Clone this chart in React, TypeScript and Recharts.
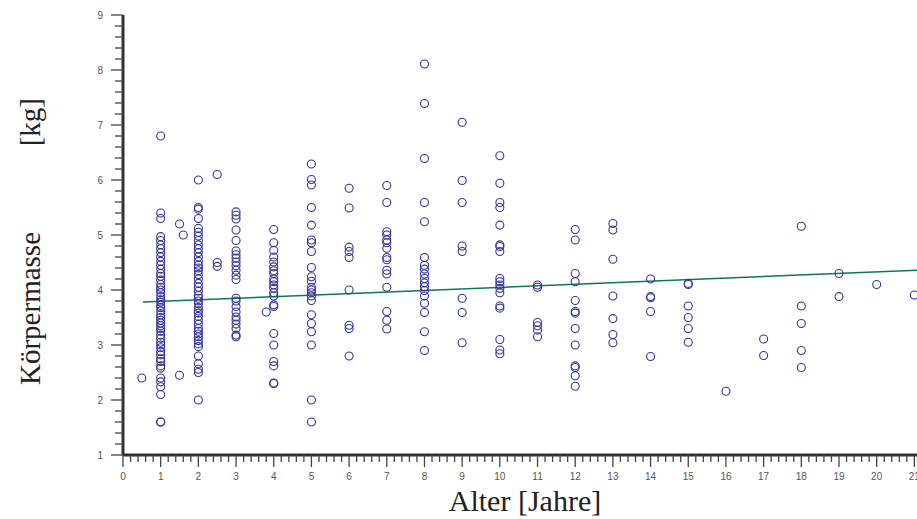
import React from "react";
import { ScatterChart, Scatter, XAxis, YAxis, ReferenceLine } from "recharts";

// Body mass [kg] per age column [years]
const ages = [0.5, 1, 1.5, 1.6, 2, 2.5, 3, 3.8, 4, 5, 6, 7, 8, 9, 10, 11, 12, 13, 14, 15, 16, 17, 18, 19, 20, 21];

const mass_0_5 = [2.4];
const mass_1 = [6.8, 5.4, 5.3, 4.97, 4.9, 4.82, 4.75, 4.68, 4.6, 4.52, 4.45, 4.38, 4.3, 4.25, 4.18, 4.1, 4.05, 4.0, 3.95, 3.88, 3.82, 3.78, 3.72, 3.68, 3.62, 3.55, 3.5, 3.45, 3.4, 3.35, 3.3, 3.25, 3.18, 3.12, 3.05, 3.0, 2.95, 2.88, 2.82, 2.75, 2.7, 2.62, 2.58, 2.4, 2.33, 2.24, 2.1, 1.6, 1.6];
const mass_1_5 = [5.2, 2.45];
const mass_1_6 = [5.0];
const mass_2 = [6.0, 5.5, 5.47, 5.3, 5.12, 5.05, 4.98, 4.9, 4.82, 4.75, 4.68, 4.6, 4.52, 4.45, 4.4, 4.35, 4.28, 4.2, 4.12, 4.05, 3.98, 3.9, 3.85, 3.8, 3.75, 3.68, 3.62, 3.58, 3.52, 3.45, 3.38, 3.3, 3.25, 3.2, 3.15, 3.08, 3.02, 2.97, 2.8, 2.66, 2.56, 2.5, 2.0];
const mass_2_5 = [6.1, 4.5, 4.43];
const mass_3 = [5.42, 5.36, 5.29, 5.09, 4.9, 4.71, 4.64, 4.58, 4.51, 4.44, 4.36, 4.27, 4.19, 3.85, 3.8, 3.7, 3.6, 3.51, 3.45, 3.38, 3.3, 3.18, 3.15];
const mass_3_8 = [3.6];
const mass_4 = [5.1, 4.86, 4.72, 4.6, 4.51, 4.42, 4.35, 4.3, 4.2, 4.15, 4.09, 4.03, 3.95, 3.89, 3.73, 3.7, 3.21, 3.0, 2.7, 2.62, 2.31, 2.3];
const mass_5 = [6.29, 6.01, 5.91, 5.5, 5.18, 4.91, 4.86, 4.7, 4.41, 4.24, 4.16, 4.05, 4.0, 3.95, 3.89, 3.81, 3.55, 3.39, 3.24, 3.0, 2.0, 1.6];
const mass_6 = [5.85, 5.49, 4.78, 4.7, 4.59, 4.0, 3.36, 3.3, 2.8];
const mass_7 = [5.9, 5.59, 5.06, 5.0, 4.91, 4.86, 4.76, 4.59, 4.55, 4.36, 4.29, 4.05, 3.61, 3.45, 3.29];
const mass_8 = [8.11, 7.39, 6.39, 5.59, 5.24, 4.59, 4.45, 4.38, 4.29, 4.21, 4.13, 4.06, 3.99, 3.89, 3.76, 3.59, 3.24, 2.9];
const mass_9 = [7.05, 5.99, 5.59, 4.8, 4.7, 3.85, 3.59, 3.04];
const mass_10 = [6.44, 5.94, 5.59, 5.5, 5.18, 4.82, 4.79, 4.7, 4.21, 4.15, 4.09, 4.03, 3.95, 3.71, 3.67, 3.1, 2.91, 2.84];
const mass_11 = [4.09, 4.05, 3.41, 3.35, 3.27, 3.15];
const mass_12 = [5.1, 4.91, 4.3, 4.15, 3.81, 3.61, 3.58, 3.3, 3.0, 2.62, 2.59, 2.44, 2.25];
const mass_13 = [5.21, 5.09, 4.56, 3.89, 3.48, 3.19, 3.04];
const mass_14 = [4.2, 3.88, 3.86, 3.61, 2.79];
const mass_15 = [4.12, 4.1, 3.71, 3.5, 3.3, 3.05];
const mass_16 = [2.16];
const mass_17 = [3.11, 2.81];
const mass_18 = [5.16, 3.71, 3.39, 2.9, 2.59];
const mass_19 = [4.3, 3.88];
const mass_20 = [4.1];
const mass_21 = [3.91];

const massColumns = [mass_0_5, mass_1, mass_1_5, mass_1_6, mass_2, mass_2_5, mass_3, mass_3_8, mass_4, mass_5, mass_6, mass_7, mass_8, mass_9, mass_10, mass_11, mass_12, mass_13, mass_14, mass_15, mass_16, mass_17, mass_18, mass_19, mass_20, mass_21];

// regression line end points (age, mass)
const regressionAges = [0.53, 21.07];
const regressionMasses = [3.78, 4.36];

// axis ticks
const xTickLabels = [0, 1, 2, 3, 4, 5, 6, 7, 8, 9, 10, 11, 12, 13, 14, 15, 16, 17, 18, 19, 20, 21];
const yTickLabels = [1, 2, 3, 4, 5, 6, 7, 8, 9];
const minorSteps = 5;

const withMinor = (majors: number[]) => {
  const out: number[] = [];
  majors.forEach((m, i) => {
    out.push(m);
    if (i < majors.length - 1) {
      for (let k = 1; k < minorSteps; k++) out.push(Math.round((m + k / minorSteps) * 1000) / 1000);
    }
  });
  return out;
};

const points = ages.flatMap((a, i) => massColumns[i].map((m) => ({ x: a, y: m })));

const TICK_FONT = "'Liberation Sans', Arial, sans-serif";
const TITLE_FONT = "'Liberation Serif', 'Times New Roman', serif";
const isMajor = (v: number) => Math.abs(v - Math.round(v)) < 1e-6;

const XTick = (props: any) => {
  const { x, y, payload } = props;
  const v = payload.value;
  const major = isMajor(v);
  return (
    <g>
      <line x1={x} x2={x} y1={y} y2={y + (major ? 12 : 7)} stroke="#444" strokeWidth={1.3} />
      {major && (
        <text x={x} y={y + 25} textAnchor="middle" fontSize={10} fill="#555" fontFamily={TICK_FONT}>
          {Math.round(v)}
        </text>
      )}
    </g>
  );
};

const YTick = (props: any) => {
  const { x, y, payload } = props;
  const v = payload.value;
  const major = isMajor(v);
  return (
    <g>
      <line x1={x} x2={x - (major ? 12 : 8)} y1={y} y2={y} stroke="#444" strokeWidth={1.3} />
      {major && (
        <text x={x - 20} y={y + 3.6} textAnchor="end" fontSize={10} fill="#555" fontFamily={TICK_FONT}>
          {Math.round(v)}
        </text>
      )}
    </g>
  );
};

const YTitle = (props: any) => {
  const vb = props.viewBox || { x: 0, y: 15, width: 123, height: 440 };
  const cx = 30;
  const bottom = vb.y + vb.height - 70;
  const top = vb.y + 83;
  return (
    <g fontFamily={TITLE_FONT} fontSize={29} fill="#222">
      <text x={cx} y={bottom} transform={`rotate(-90 ${cx} ${bottom})`} textAnchor="start" dominantBaseline="central">
        Körpermasse
      </text>
      <text x={cx} y={top} transform={`rotate(-90 ${cx} ${top})`} textAnchor="end" dominantBaseline="central">
        [kg]
      </text>
    </g>
  );
};

const XTitle = (props: any) => {
  const vb = props.viewBox || { x: 123, y: 455, width: 794, height: 64 };
  return (
    <text x={525} y={vb.y + 56} textAnchor="middle" fontFamily={TITLE_FONT} fontSize={30} fill="#222">
      Alter [Jahre]
    </text>
  );
};

const Ring = (props: any) => (
  <circle cx={props.cx} cy={props.cy} r={4} fill="none" stroke="#34349a" strokeWidth={1.1} />
);

export default function App() {
  return (
    <div style={{ position: "absolute", left: 0, top: 0, width: 917, height: 519, background: "#fff" }}>
      <ScatterChart width={917} height={519} margin={{ top: 15, right: 0, bottom: 0, left: 0 }}>
        <XAxis
          type="number"
          dataKey="x"
          domain={[0, 21.07]}
          ticks={withMinor(xTickLabels)}
          interval={0}
          tickSize={0}
          tickMargin={0}
          tick={<XTick />}
          axisLine={{ stroke: "#333", strokeWidth: 3 }}
          height={64}
          allowDataOverflow
          label={<XTitle />}
        />
        <YAxis
          type="number"
          dataKey="y"
          domain={[1, 9]}
          ticks={withMinor(yTickLabels)}
          interval={0}
          tickSize={0}
          tickMargin={0}
          tick={<YTick />}
          axisLine={{ stroke: "#333", strokeWidth: 3 }}
          width={123}
          allowDataOverflow
          label={<YTitle />}
        />
        <Scatter data={points} shape={<Ring />} isAnimationActive={false} />
        <ReferenceLine
          segment={[
            { x: regressionAges[0], y: regressionMasses[0] },
            { x: regressionAges[1], y: regressionMasses[1] },
          ]}
          stroke="#0f7a4e"
          strokeWidth={1.5}
          ifOverflow="visible"
        />
      </ScatterChart>
    </div>
  );
}
